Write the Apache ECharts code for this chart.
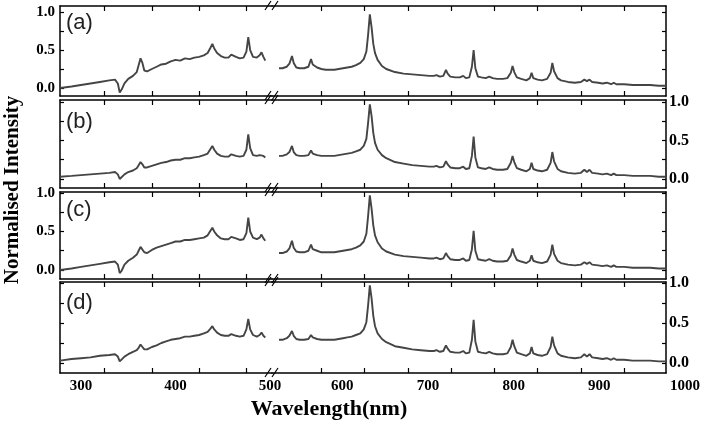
<!DOCTYPE html>
<html><head><meta charset="utf-8">
<script src="https://cdn.jsdelivr.net/npm/echarts@6/dist/echarts.min.js"></script>
<style>html,body{margin:0;padding:0;background:#fff}#c{width:703px;height:427px}</style>
</head><body><div id="c"></div><script>
// ---- data ----
const waveLeft = [
 278,290,300,310,320,330,336,339,341,343,
 346,350,355,359,361,363,365,367,370,375,
 380,385,390,395,400,405,410,415,420,425,
 430,434,437,439,441,444,448,452,456,459,
 461,464,468,472,475,477,479,482,486,489,
 491,493,495];
const waveRight = [
 526,530,535,538,541,543,546,550,555,560,
 563,565,567,570,575,580,585,590,595,600,
 605,610,615,620,624,627,629,631,633,635,
 637,640,645,650,660,670,680,690,700,705,
 708,712,716,719,721,724,730,735,739,742,
 746,749,751,753,756,760,765,769,771,773,
 778,785,790,794,796,798,801,806,812,816,
 818,820,825,830,836,840,842,844,848,852,
 860,868,875,879,882,885,888,895,900,905,
 910,913,916,925,935,945,955,965,973];

const aLeft = [
 .00,.02,.04,.06,.08,.10,.11,.06,-.06,-.02,
 .06,.12,.16,.21,.30,.39,.33,.23,.22,.25,
 .28,.31,.32,.35,.37,.36,.39,.38,.40,.41,
 .43,.46,.53,.58,.52,.46,.42,.40,.40,.44,
 .46,.41,.39,.40,.48,.67,.50,.41,.40,.43,
 .47,.41,.36];
const bLeft = [
 .03,.04,.05,.06,.07,.08,.09,.06,.00,.02,
 .06,.09,.11,.14,.18,.22,.19,.15,.15,.17,
 .19,.21,.22,.24,.25,.25,.27,.27,.28,.29,
 .31,.33,.39,.43,.38,.33,.30,.29,.29,.32,
 .33,.30,.29,.30,.38,.58,.40,.31,.30,.31,
 .33,.30,.28];
const cLeft = [
 .00,.02,.04,.06,.08,.10,.11,.07,-.04,-.01,
 .07,.12,.16,.20,.25,.30,.28,.23,.22,.26,
 .29,.31,.33,.35,.37,.37,.39,.39,.40,.41,
 .42,.45,.51,.55,.50,.45,.41,.40,.40,.43,
 .45,.41,.39,.40,.48,.68,.50,.42,.40,.42,
 .46,.41,.38];
const dLeft = [
 .03,.05,.06,.07,.09,.10,.11,.08,.02,.04,
 .08,.11,.14,.16,.19,.23,.20,.17,.17,.20,
 .22,.25,.27,.29,.30,.31,.33,.33,.34,.35,
 .37,.39,.43,.46,.42,.38,.35,.34,.34,.36,
 .37,.34,.33,.34,.42,.55,.42,.35,.33,.35,
 .38,.34,.32];

const aRight = [
 .26,.26,.28,.32,.42,.33,.27,.26,.26,.28,
 .38,.31,.32,.27,.25,.24,.24,.24,.25,.26,
 .27,.28,.30,.33,.38,.48,.70,.97,.80,.58,
 .46,.37,.29,.25,.21,.19,.18,.17,.16,.16,
 .17,.15,.16,.24,.19,.15,.14,.14,.16,.13,
 .14,.28,.50,.26,.15,.14,.13,.15,.17,.13,
 .12,.12,.13,.20,.29,.21,.14,.12,.10,.13,
 .20,.13,.11,.10,.12,.20,.33,.22,.13,.10,
 .08,.07,.08,.11,.09,.11,.08,.07,.06,.07,
 .05,.07,.05,.05,.04,.04,.04,.03,.03];
const bRight = [
 .30,.30,.32,.35,.43,.35,.31,.30,.30,.31,
 .37,.33,.34,.31,.30,.30,.30,.30,.31,.32,
 .33,.34,.36,.38,.43,.52,.73,.97,.82,.60,
 .47,.38,.31,.27,.22,.20,.18,.17,.16,.16,
 .17,.15,.16,.23,.19,.15,.14,.14,.16,.13,
 .14,.30,.55,.28,.15,.14,.13,.15,.17,.13,
 .12,.12,.13,.21,.30,.22,.14,.12,.10,.13,
 .21,.13,.11,.10,.12,.21,.35,.23,.13,.10,
 .08,.07,.08,.12,.09,.12,.08,.07,.06,.07,
 .05,.07,.05,.05,.04,.04,.04,.03,.03];
const cRight = [
 .22,.22,.24,.28,.38,.29,.24,.23,.23,.25,
 .33,.27,.28,.25,.23,.23,.23,.23,.24,.25,
 .26,.27,.29,.32,.37,.47,.70,.97,.80,.58,
 .45,.36,.28,.24,.20,.18,.17,.16,.15,.15,
 .16,.14,.15,.22,.18,.14,.13,.13,.15,.12,
 .13,.27,.51,.25,.14,.13,.12,.14,.16,.12,
 .11,.11,.12,.19,.28,.20,.13,.11,.09,.12,
 .19,.12,.10,.09,.11,.20,.33,.21,.12,.09,
 .07,.06,.07,.10,.08,.10,.07,.06,.05,.06,
 .04,.06,.04,.04,.03,.03,.03,.02,.02];
const dRight = [
 .29,.29,.31,.34,.40,.34,.30,.29,.29,.30,
 .35,.32,.33,.30,.29,.29,.29,.29,.30,.31,
 .32,.33,.35,.37,.42,.51,.72,.97,.81,.59,
 .46,.37,.30,.26,.21,.19,.17,.16,.15,.15,
 .16,.14,.15,.22,.18,.14,.13,.13,.15,.12,
 .13,.29,.54,.27,.14,.13,.12,.14,.16,.12,
 .11,.11,.12,.20,.29,.21,.13,.11,.09,.12,
 .20,.12,.10,.09,.11,.20,.33,.22,.12,.09,
 .07,.06,.07,.11,.08,.11,.07,.06,.05,.06,
 .04,.06,.04,.04,.03,.03,.03,.02,.02];

const xTicksLeft = [325,375,425,475];
const xTicksRight = [575,625,675,725,775,825,875,925];
const xLabelsLeft = [300,400,500];
const xLabelsRight = [600,700,800,900,1000];
const yTicks = [0,0.25,0.5,0.75,1];
const yLabels = [0,0.5,1];
const panelNames = ['(a)','(b)','(c)','(d)'];
const xTitle = 'Wavelength(nm)';
const yTitle = 'Normalised Intensity';

// ---- layout ----
const panels = [
  {top:6,  bottom:96,  ymin:-0.105, ymax:1.079, side:'left',  left:aLeft, right:aRight},
  {top:100,bottom:188, ymin:-0.117, ymax:1.026, side:'right', left:bLeft, right:bRight},
  {top:192,bottom:279, ymin:-0.117, ymax:1.013, side:'left',  left:cLeft, right:cRight},
  {top:282,bottom:373, ymin:-0.125, ymax:1.0125,side:'right', left:dLeft, right:dRight}
];
const PLOT_L = 60, BREAK_X = 272, PLOT_R = 666;
const LEFT_MIN = 277.8, LEFT_MAX = 502.1;
const RIGHT_MIN = 517.9, RIGHT_MAX = 973.4;
const FRAME = {color:'#000', width:1.5};
const serif = 'Liberation Serif';
const fmtInt = v => String(Math.round(v));

const grid = [], xAxis = [], yAxis = [], series = [], graphic = [];
const zip = (xs, ys) => xs.map((x,i)=>[x, ys[i]]);

panels.forEach((p, pi) => {
  const isBottom = pi === panels.length - 1;
  [['L', PLOT_L, BREAK_X - PLOT_L, LEFT_MIN, LEFT_MAX, xTicksLeft, xLabelsLeft, waveLeft, p.left],
   ['R', BREAK_X, PLOT_R - BREAK_X, RIGHT_MIN, RIGHT_MAX, xTicksRight, xLabelsRight, waveRight, p.right]]
  .forEach(([seg, gl, gw, xmin, xmax, ticks, labels, xs, ys]) => {
    const gi = grid.length;
    grid.push({left:gl, top:p.top, width:gw, height:p.bottom - p.top, show:false});
    const showLab = isBottom && seg === 'L';
    const xi = xAxis.length;
    xAxis.push({
      gridIndex:gi, type:'value', min:xmin, max:xmax, position:'bottom',
      axisLine:{show:true, onZero:false, lineStyle:FRAME},
      axisTick:{show:true, inside:true, length:5, customValues:ticks, lineStyle:{color:'#000', width:1.2}},
      axisLabel:{show:showLab, customValues:labels, formatter:fmtInt, margin:6, color:'#000',
                 fontFamily:serif, fontWeight:'bold', fontSize:15},
      splitLine:{show:false}
    });
    xAxis.push({
      gridIndex:gi, type:'value', min:xmin, max:xmax, position:'top',
      axisLine:{show:true, onZero:false, lineStyle:FRAME},
      axisTick:{show:true, inside:true, length:5, customValues:ticks, lineStyle:{color:'#000', width:1.2}},
      axisLabel:{show:false}, splitLine:{show:false}
    });
    const yi = yAxis.length;
    const ySide = seg === 'L' ? 'left' : 'right';
    const showYLab = (ySide === p.side);
    yAxis.push({
      gridIndex:gi, type:'value', min:p.ymin, max:p.ymax, position:ySide,
      axisLine:{show:true, onZero:false, lineStyle:FRAME},
      axisTick:{show:true, inside:true, length:4, customValues:yTicks, lineStyle:{color:'#000', width:1.2}},
      axisLabel:{show:showYLab, customValues:yLabels, formatter:v=>v.toFixed(1),
                 margin: ySide==='left'?5:3, color:'#000', fontFamily:serif, fontWeight:'bold',
                 fontSize: ySide==='left'?15:16},
      splitLine:{show:false}
    });
    series.push({
      type:'line', xAxisIndex:xi, yAxisIndex:yi, data:zip(xs, ys),
      showSymbol:false, symbol:'none', silent:true, clip:true,
      lineStyle:{color:'#454545', width:1.9}
    });
  });
  // break marks
  [p.top, p.bottom].forEach(y => {
    [265, 272].forEach(x0 => {
      graphic.push({type:'line', shape:{x1:x0, y1:y+4, x2:x0+6, y2:y-5},
        style:{stroke:'#000', lineWidth:1.2}, z:100});
    });
  });
  graphic.push({type:'text', x:66, y:[23,122,210,303][pi],
    style:{text:panelNames[pi], font:'22px "Liberation Sans"', fill:'#222', align:'left', verticalAlign:'middle'}, z:100});
});

// label-only axis for the right segment (extends to the window edge so "1000" shows)
{
  const p = panels[3];
  const gi = grid.length;
  const scale = (PLOT_R - BREAK_X) / (RIGHT_MAX - RIGHT_MIN);
  const labW = 703 - BREAK_X;
  const labMax = RIGHT_MIN + labW / scale;
  grid.push({left:BREAK_X, top:p.top, width:labW, height:p.bottom-p.top, show:false});
  xAxis.push({gridIndex:gi, type:'value', min:RIGHT_MIN, max:labMax, position:'bottom',
    axisLine:{show:false}, axisTick:{show:false}, splitLine:{show:false},
    axisLabel:{show:true, customValues:xLabelsRight, formatter:fmtInt, margin:6, color:'#000',
               fontFamily:serif, fontWeight:'bold', fontSize:15}});
  yAxis.push({gridIndex:gi, type:'value', min:0, max:1, show:false});
}

graphic.push({type:'text', x:329, y:409,
  style:{text:xTitle, font:'bold 22px "Liberation Serif"', fill:'#000', align:'center', verticalAlign:'middle'}});
graphic.push({type:'text', x:13, y:190, rotation:Math.PI/2,
  style:{text:yTitle, font:'bold 21px "Liberation Serif"', fill:'#000', align:'center', verticalAlign:'middle'}});

const chart = echarts.init(document.getElementById('c'), null, {renderer:'canvas'});
chart.setOption({animation:false, backgroundColor:'#fff', grid, xAxis, yAxis, series, graphic});
</script></body></html>
